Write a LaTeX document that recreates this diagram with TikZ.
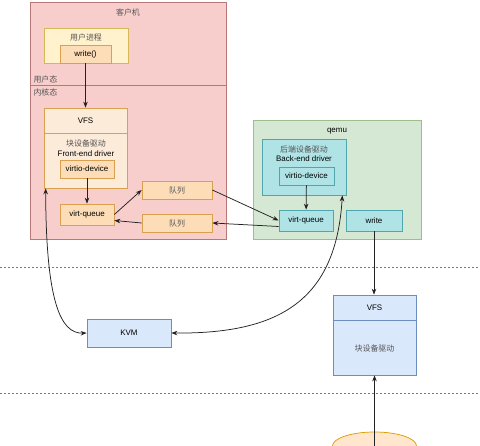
\documentclass[tikz,border=0pt]{standalone}
\usepackage{fontspec}
\setmainfont{Liberation Sans}
\newfontfamily\cjk{Noto Sans CJK SC}
\usetikzlibrary{arrows.meta,shapes.geometric}

\begin{document}
\begin{tikzpicture}[font=\fontsize{8}{9.6}\selectfont,
  box/.style={draw,rectangle,inner sep=0pt,line width=0.7bp},
  guestbox/.style={box,fill=guestfill,draw=guestline},
  yellowbox/.style={box,fill=yellowfill,draw=yellowline},
  vfsbox/.style={box,fill=vfsfill,draw=orangeline},
  orangebox/.style={box,fill=orangefill,draw=orangeline},
  qemubox/.style={box,fill=qemufill,draw=qemuline},
  tealbox/.style={box,fill=tealfill,draw=tealline},
  bluebox/.style={box,fill=bluefill,draw=blueline},
  zh/.style={font=\fontsize{8}{9.6}\selectfont\cjk,text=zhtext},
  link/.style={-{Stealth[length=6bp,width=4.5bp]},draw=linkcol,line width=0.75bp},
  both/.style={link,{Stealth[length=6bp,width=4.5bp]}-{Stealth[length=6bp,width=4.5bp]}},
  sep/.style={draw=sepcol,line width=0.75bp,dash pattern=on 2bp off 2bp}]
  \definecolor{guestfill}{HTML}{F8CECC}
  \definecolor{guestline}{HTML}{B87878}
  \definecolor{yellowfill}{HTML}{FFF2CC}
  \definecolor{yellowline}{HTML}{D6B656}
  \definecolor{vfsfill}{HTML}{FDEBDA}
  \definecolor{orangefill}{HTML}{FCDDB8}
  \definecolor{orangeline}{HTML}{D9A050}
  \definecolor{qemufill}{HTML}{D5E8D4}
  \definecolor{qemuline}{HTML}{9DC08B}
  \definecolor{tealfill}{HTML}{B0E3E6}
  \definecolor{tealline}{HTML}{4FA6AD}
  \definecolor{bluefill}{HTML}{DAE8FC}
  \definecolor{blueline}{HTML}{6C8EBF}
  \definecolor{diskfill}{HTML}{FFE6CC}
  \definecolor{diskline}{HTML}{D79B00}
  \definecolor{linkcol}{HTML}{222222}
  \definecolor{sepcol}{HTML}{777777}
  \definecolor{zhtext}{HTML}{555555}
  \useasboundingbox (0bp,0bp) rectangle (480bp,446bp);
  % guest machine
  \node (Guest) at (128bp,325.5bp) [guestbox,minimum width=196bp,minimum height=237bp] {};
  \node (GuestTitle) at (128bp,434bp) [zh] {客户机};
  \draw [guestline,line width=0.7bp] (Guest.west |- 0,361bp) -- (Guest.east |- 0,361bp);
  \node (UserMode) at (30bp,367bp) [zh,anchor=west] {用户态};
  \node (KernelMode) at (30bp,354bp) [zh,anchor=west] {内核态};
  \node (UserProc) at (86bp,400.5bp) [yellowbox,minimum width=84bp,minimum height=35bp] {};
  \node (UserProcLabel) at (86bp,409bp) [zh] {用户进程};
  \node (WriteCall) at (85.5bp,392bp) [orangebox,minimum width=51bp,minimum height=18bp] {write()};
  \node (GuestVFS) at (85.5bp,298bp) [vfsbox,minimum width=83bp,minimum height=80bp] {};
  \draw [orangeline,line width=0.7bp] (GuestVFS.west |- 0,313bp) -- (GuestVFS.east |- 0,313bp);
  \node (GuestVFSLabel) at (85.5bp,325.5bp) {VFS};
  \node (FrontCN) at (86bp,303bp) [zh] {块设备驱动};
  \node (FrontEN) at (86bp,292bp) {Front-end driver};
  \node (GuestDevice) at (87bp,277bp) [orangebox,minimum width=54bp,minimum height=18bp] {virtio-device};
  \node (GuestQueue) at (87bp,231.5bp) [orangebox,minimum width=54bp,minimum height=21bp] {virt-queue};
  \node (QueueUp) at (177bp,256bp) [orangebox,minimum width=70bp,minimum height=18bp,zh] {队列};
  \node (QueueDown) at (177bp,223bp) [orangebox,minimum width=70bp,minimum height=18bp,zh] {队列};
  % qemu
  \node (Qemu) at (337bp,266.5bp) [qemubox,minimum width=168bp,minimum height=119bp] {};
  \node (QemuLabel) at (337bp,315bp) {qemu};
  \node (BackEnd) at (304bp,279bp) [tealbox,minimum width=84bp,minimum height=56bp] {};
  \node (BackCN) at (304bp,297bp) [zh] {后端设备驱动};
  \node (BackEN) at (304bp,287bp) {Back-end driver};
  \node (QemuDevice) at (306.5bp,270bp) [tealbox,minimum width=55bp,minimum height=18bp] {virtio-device};
  \node (QemuQueue) at (306bp,225.5bp) [tealbox,minimum width=54bp,minimum height=21bp] {virt-queue};
  \node (QemuWrite) at (374bp,225.5bp) [tealbox,minimum width=56bp,minimum height=21bp] {write};
  % layers
  \draw [sep] (0bp,179bp) -- (480bp,179bp);
  \draw [sep] (0bp,53bp) -- (480bp,53bp);
  % host
  \node (KVM) at (129bp,113bp) [bluebox,minimum width=84bp,minimum height=28bp] {KVM};
  \node (HostVFS) at (374.5bp,111bp) [bluebox,minimum width=83bp,minimum height=80bp] {};
  \draw [blueline,line width=0.7bp] (HostVFS.west |- 0,126bp) -- (HostVFS.east |- 0,126bp);
  \node (HostVFSLabel) at (374.5bp,138bp) {VFS};
  \node (HostDriver) at (374.5bp,98bp) [zh] {块设备驱动};
  \node (Disk) at (374.5bp,0bp) [ellipse,inner sep=0pt,minimum width=84bp,minimum height=28bp,draw=diskline,fill=diskfill,line width=0.7bp] {};
  % links
  \draw [link] (WriteCall) -- (GuestVFS);
  \draw [link] (GuestDevice) -- (GuestQueue);
  \draw [link] (GuestQueue.east) -- (QueueUp.west);
  \draw [link] (QueueDown.west) -- ([yshift=-6bp]GuestQueue.east);
  \draw [link] (QueueUp.east) -- (QemuQueue.west);
  \draw [link] ([yshift=-6bp]QemuQueue.west) -- (QueueDown.east);
  \draw [link] (QemuDevice) -- (QemuQueue);
  \draw [both] (KVM.east) .. controls (280bp,112bp) and (336bp,146bp) .. ([xshift=-4bp]BackEnd.south east);
  \draw [both] ([xshift=2bp]GuestVFS.south west) .. controls (46bp,146bp) and (60bp,112bp) .. (KVM.west);
  \draw [link] (QemuWrite.south) -- (QemuWrite.south |- HostVFS.north);
  \draw [link] (Disk.center) -- (Disk.center |- HostVFS.south);
\end{tikzpicture}
\end{document}
